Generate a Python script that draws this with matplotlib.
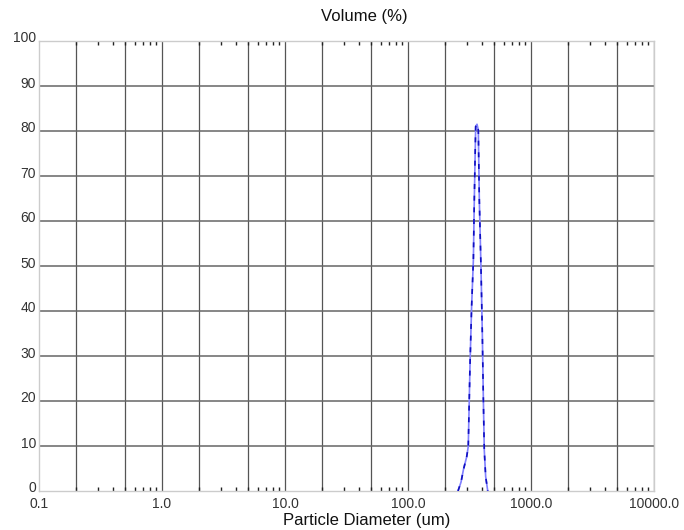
import matplotlib
matplotlib.use('Agg')
import matplotlib.pyplot as plt
import matplotlib.transforms as mtransforms
from matplotlib.ticker import FixedLocator, FixedFormatter, NullFormatter

plt.rcParams['font.family'] = ['Liberation Sans', 'DejaVu Sans']

# particle size distribution
diameter_um = [255, 270, 282, 300, 309, 319, 329, 340, 346, 355, 364,
               373, 380, 392, 402, 410, 417, 428, 445]
volume_pct = [0.0, 2.0, 4.7, 7.6, 9.9, 27.6, 41.0, 51.3, 64.7, 81.0, 81.5,
              80.2, 64.7, 49.8, 35.0, 20.2, 9.1, 3.2, 0.0]

x_major = [0.1, 1, 10, 100, 1000, 10000]
x_labels = ['0.1', '1.0', '10.0', '100.0', '1000.0', '10000.0']
x_grid = [0.2, 0.5, 1, 2, 5, 10, 20, 50, 100, 200, 500, 1000, 2000, 5000, 10000]
x_minor = [m * 10.0 ** e for e in range(-1, 4) for m in (3, 4, 6, 7, 8, 9)]
y_ticks = list(range(0, 101, 10))

fig = plt.figure(figsize=(6.84, 5.30), dpi=100)
ax = fig.add_axes([39/684, 39/530, 615/684, 450/530])

ax.set_xscale('log')
ax.set_xlim(0.1, 10000)
ax.set_ylim(0, 100)

# grid lines drawn by hand at 1-2-5 steps
for g in x_grid:
    ax.axvline(g, color='#555555', lw=0.9, zorder=1)
for g in y_ticks[1:]:
    ax.axhline(g, color='#666666', lw=1.1, zorder=1)

ax.plot(diameter_um, volume_pct, color='#8080ff', lw=1.2, zorder=3)
ax.plot(diameter_um, volume_pct, color='#1010c0', lw=1.2, ls=(0, (3, 4)), zorder=4)

ax.xaxis.set_major_locator(FixedLocator(x_major))
ax.xaxis.set_major_formatter(FixedFormatter(x_labels))
ax.xaxis.set_minor_locator(FixedLocator(x_minor + [0.2, 0.5, 2, 5, 20, 50, 200, 500, 2000, 5000]))
ax.xaxis.set_minor_formatter(NullFormatter())
ax.set_yticks(y_ticks)

ax.tick_params(axis='x', which='major', length=0, pad=4, labelsize=10, colors='#333333')
ax.tick_params(axis='x', which='minor', direction='in', length=3, width=1,
               top=True, bottom=True, color='#222222')
ax.tick_params(axis='y', length=0, pad=2, labelsize=10, colors='#333333')

# y labels sit a little above their grid line
shift = mtransforms.ScaledTranslation(0, 4/100, fig.dpi_scale_trans)
for lbl in ax.get_yticklabels():
    lbl.set_transform(lbl.get_transform() + shift)

for s in ax.spines.values():
    s.set_color('#cccccc')
    s.set_linewidth(1)

fig.text(364/684, 1 - 16/530, 'Volume (%)', ha='center', va='center',
         fontsize=12, color='#111111')
fig.text(367/684, 1 - 520/530, 'Particle Diameter (um)', ha='center', va='center',
         fontsize=12, color='#111111')

fig.savefig('out.png', dpi=100, facecolor='white')
